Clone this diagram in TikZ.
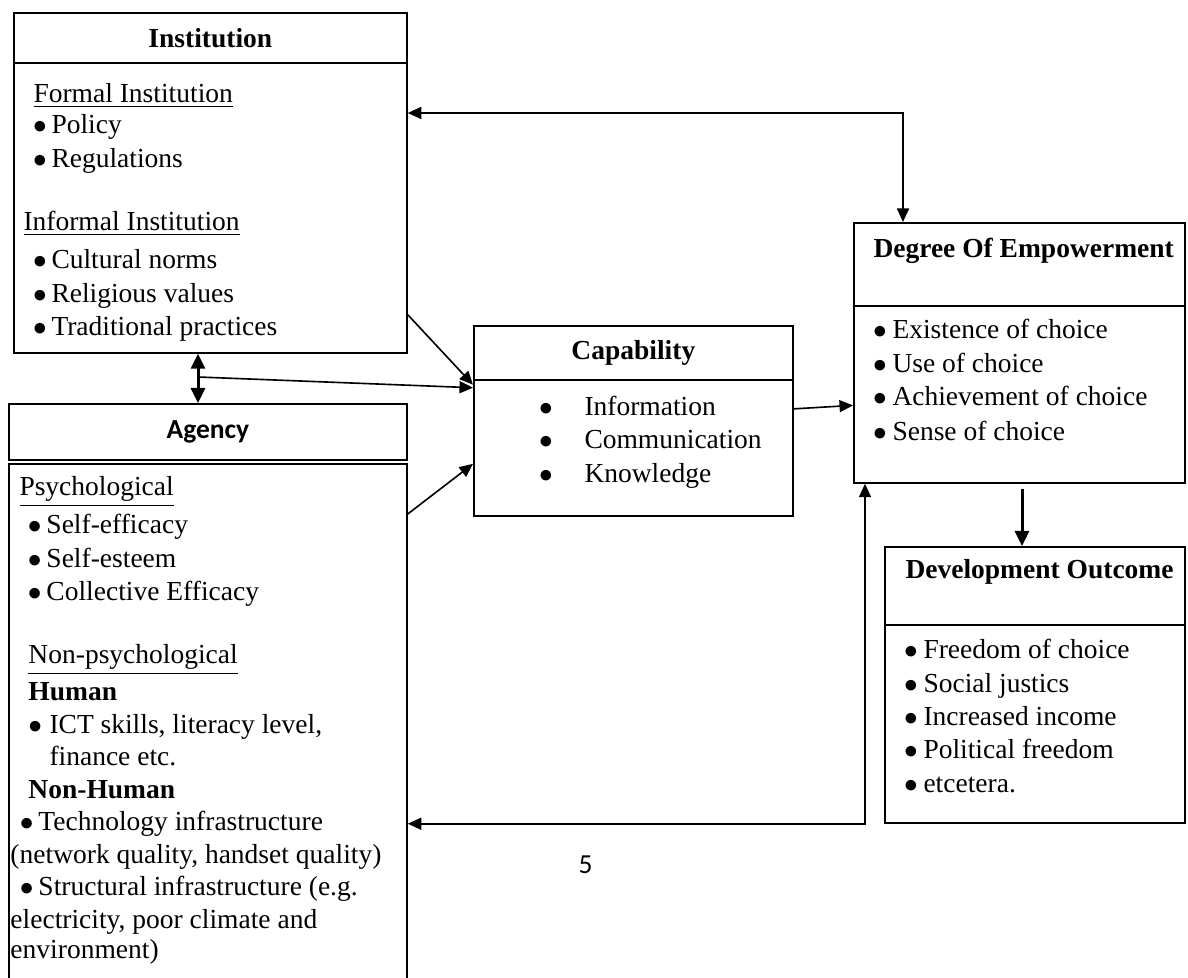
\documentclass[tikz,border=0pt]{standalone}
\usepackage{fontspec}
\setmainfont{Liberation Serif}
\newfontfamily\calibri{Carlito}
\usetikzlibrary{arrows.meta, calc}
\def\pxu{0.4pt}
\newcommand{\bul}[2][7.4pt]{\makebox[#1][l]{$\bullet$}#2}

\begin{document}
\begin{tikzpicture}[
    x=0.4pt, y=-0.4pt,
    >={Triangle[length=5.4pt, width=4.8pt]},
    box/.style={rectangle, draw, line width=0.7pt, anchor=north west, inner sep=0pt, font=\fontsize{11}{13.6}\selectfont\bfseries},
    txt/.style={anchor=mid west, inner sep=0pt, font=\fontsize{11}{13.6}\selectfont},
    arrow/.style={line width=0.65pt, ->},
    bigarrow/.style={line width=1.2pt, ->, >={Triangle[length=6pt, width=5.6pt]}}
]
\useasboundingbox (0,0) rectangle (1188,978);
\clip (0,0) rectangle (1188,978);

% Boxes
\node[box, minimum width=393*\pxu, minimum height=50*\pxu] (insthead) at (13,12) {Institution};
\node[box, minimum width=393*\pxu, minimum height=290*\pxu] (instbody) at (13,62) {};
\node[box, minimum width=398*\pxu, minimum height=56*\pxu, font=\calibri\fontsize{11}{13.6}\selectfont\bfseries] (aghead) at (8,403) {Agency};
\node[box, minimum width=398*\pxu, minimum height=540*\pxu] (agbody) at (8,463) {};
\node[box, minimum width=319*\pxu, minimum height=54*\pxu] (caphead) at (473,325) {Capability};
\node[box, minimum width=319*\pxu, minimum height=136*\pxu] (capbody) at (473,379) {};
\node[box, minimum width=331*\pxu, minimum height=83*\pxu] (deghead) at (853,222) {};
\node[box, minimum width=331*\pxu, minimum height=177*\pxu] (degbody) at (853,305) {};
\node[box, minimum width=300*\pxu, minimum height=78*\pxu] (devhead) at (884,546) {};
\node[box, minimum width=300*\pxu, minimum height=198*\pxu] (devbody) at (884,624) {};

% Institution text
\node[txt] (formal) at (33,97) {\underline{Formal Institution}};
\node[txt] (policy) at (32.5,128) {\bul{Policy}};
\node[txt] (regul) at (32.5,162) {\bul{Regulations}};
\node[txt] (informal) at (23,225) {\underline{Informal Institution}};
\node[txt] (cultural) at (32.5,263) {\bul{Cultural norms}};
\node[txt] (religious) at (32.5,297) {\bul{Religious values}};
\node[txt] (tradition) at (32.5,330) {\bul{Traditional practices}};

% Agency text
\node[txt] (psych) at (19,490) {\underline{Psychological}};
\node[txt] (selfeff) at (27.5,528) {\bul{Self-efficacy}};
\node[txt] (selfest) at (27.5,562) {\bul{Self-esteem}};
\node[txt] (colleff) at (27.5,595) {\bul{Collective Efficacy}};
\node[txt] (nonpsych) at (28,658) {\underline{Non-psychological}};
\node[txt] (human) at (28,695) {\textbf{Human}};
\node[txt] (ict) at (28,728) {\bul[8.4pt]{ICT skills, literacy level,}};
\node[txt] (finance) at (49,760) {finance etc.};
\node[txt] (nonhuman) at (28,793) {\textbf{Non-Human}};
\node[txt] (techinf) at (19.5,825) {\bul{Technology infrastructure}};
\node[txt] (network) at (10,858) {(network quality, handset quality)};
\node[txt] (structinf) at (19.5,890) {\bul{Structural infrastructure (e.g.}};
\node[txt] (electric) at (10,923) {electricity, poor climate and};
\node[txt] (environ) at (10,953) {environment)};

% Capability text
\node[txt] (info) at (538.5,410) {\bul[18.2pt]{Information}};
\node[txt] (comm) at (538.5,443) {\bul[18.2pt]{Communication}};
\node[txt] (know) at (538.5,477) {\bul[18.2pt]{Knowledge}};

% Degree of empowerment text
\node[txt] (degtitle) at (873,252) {\textbf{Degree Of Empowerment}};
\node[txt] (exist) at (872.5,333) {\bul[7.8pt]{Existence of choice}};
\node[txt] (use) at (872.5,367) {\bul[7.8pt]{Use of choice}};
\node[txt] (achieve) at (872.5,400) {\bul[7.8pt]{Achievement of choice}};
\node[txt] (sense) at (872.5,435) {\bul[7.8pt]{Sense of choice}};

% Development outcome text
\node[txt] (devtitle) at (905,573) {\textbf{Development Outcome}};
\node[txt] (freedom) at (903.5,653) {\bul[7.8pt]{Freedom of choice}};
\node[txt] (justice) at (903.5,687) {\bul[7.8pt]{Social justics}};
\node[txt] (income) at (903.5,720) {\bul[7.8pt]{Increased income}};
\node[txt] (political) at (903.5,753) {\bul[7.8pt]{Political freedom}};
\node[txt] (etc) at (903.5,787) {\bul[7.8pt]{etcetera.}};

\node[txt, font=\calibri\fontsize{11}{13.6}\selectfont] (pagenum) at (578,868) {5};

% Connections
\coordinate (split) at (198,377);
\draw[arrow, <->] ([yshift=-51*\pxu]instbody.north east) -| ([xshift=50*\pxu]deghead.north west);
\draw[arrow] ([yshift=39*\pxu]instbody.south east) -- ([yshift=-4*\pxu]caphead.south west);
\draw[bigarrow, <->] (instbody.south -| split) -- (aghead.north -| split);
\draw[arrow] (split) -- ([yshift=-7*\pxu]caphead.south west);
\draw[arrow] ([yshift=-51*\pxu]agbody.north east) -- ([yshift=-16*\pxu]capbody.west);
\draw[arrow] ([yshift=39*\pxu]capbody.east) -- ([yshift=-11*\pxu]degbody.west);
\draw[bigarrow] ([xshift=169*\pxu, yshift=-5*\pxu]degbody.south west) -- ([xshift=138*\pxu]devhead.north west);
\draw[arrow, <->] ([xshift=12*\pxu]degbody.south west) |- (agbody.east |- devbody.south);

\end{tikzpicture}
\end{document}
